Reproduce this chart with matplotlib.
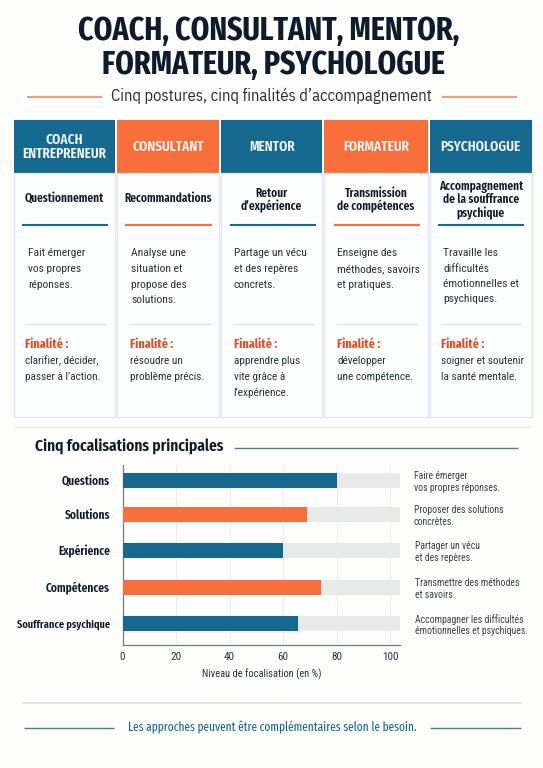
import matplotlib
matplotlib.use("Agg")
import matplotlib.pyplot as plt
from matplotlib import font_manager as fm
from matplotlib.font_manager import FontProperties
from matplotlib.patches import Rectangle
from matplotlib.textpath import TextPath

names = {f.name for f in fm.fontManager.ttflist}
def pick(*c):
    for n in c:
        if n in names:
            return n
    return 'Roboto'
BODY = pick('Roboto Condensed', 'IBM Plex Sans Condensed', 'Liberation Sans Narrow')
SUB = pick('IBM Plex Sans Condensed', 'Roboto Condensed', 'Liberation Sans Narrow')
BOLD = pick('Fira Sans Extra Condensed', 'Barlow Condensed', 'Liberation Sans Narrow')
HEAD = BOLD

BLUE = '#15698F'; ORANGE = '#F96F3B'; INK = '#0E1B2C'; BG = '#FDFDFB'; RED = '#E2502A'

title_lines = ["COACH, CONSULTANT, MENTOR,", "FORMATEUR, PSYCHOLOGUE"]
subtitle = "Cinq postures, cinq finalités d’accompagnement"
headers = ["COACH\nENTREPRENEUR", "CONSULTANT", "MENTOR", "FORMATEUR", "PSYCHOLOGUE"]
postures = ["Questionnement", "Recommandations", "Retour\nd’expérience",
            "Transmission\nde compétences", "Accompagnement\nde la souffrance\npsychique"]
descriptions = [["Fait émerger", "vos propres", "réponses."],
                ["Analyse une", "situation et", "propose des", "solutions."],
                ["Partage un vécu", "et des repères", "concrets."],
                ["Enseigne des", "méthodes, savoirs", "et pratiques."],
                ["Travaille les", "difficultés", "émotionnelles et", "psychiques."]]
purposes = [["clarifier, décider,", "passer à l’action."],
            ["résoudre un", "problème précis."],
            ["apprendre plus", "vite grâce à", "l’expérience."],
            ["développer", "une compétence."],
            ["soigner et soutenir", "la santé mentale."]]
focus_labels = ["Questions", "Solutions", "Expérience", "Compétences", "Souffrance psychique"]
focus_values = [80, 69, 60, 74, 65.5]
focus_notes = [["Faire émerger", "vos propres réponses."],
               ["Proposer des solutions", "concrètes."],
               ["Partager un vécu", "et des repères."],
               ["Transmettre des méthodes", "et savoirs."],
               ["Accompagner les difficultés", "émotionnelles et psychiques."]]
ticks = [0, 20, 40, 60, 80, 100]
xlabel = "Niveau de focalisation (en %)"
section_title = "Cinq focalisations principales"
footer = "Les approches peuvent être complémentaires selon le besoin."

W, H = 543, 768
fig = plt.figure(figsize=(W/100, H/100), dpi=100, facecolor=BG)
bgax = fig.add_axes([0, 0, 1, 1]); bgax.set_xlim(0, W); bgax.set_ylim(H, 0); bgax.axis('off')

def fit(s, px, fam, weight='normal'):
    p = TextPath((0, 0), s, size=10, prop=FontProperties(family=fam, weight=weight))
    return 10 * (px * 0.72) / p.get_extents().width

def T(x, y, s, size, color=INK, weight='normal', ha='left', va='center', fam=None, **kw):
    return bgax.text(x, y, s, fontsize=size, color=color, fontweight=weight, ha=ha, va=va,
                     family=fam or BODY, **kw)
def L(x0, x1, y, color, lw=1.0):
    bgax.plot([x0, x1], [y, y], color=color, lw=lw, solid_capstyle='butt')

# Title block
ts = fit(title_lines[0], 381, HEAD, 'bold')
T(268.5, 40, title_lines[0], ts, weight='bold', ha='center', va='baseline', fam=HEAD)
T(273, 74, title_lines[1], ts, weight='bold', ha='center', va='baseline', fam=HEAD)
T(271, 95.5, subtitle, fit(subtitle, 320, SUB), color='#26303B', ha='center', fam=SUB)
L(27, 102, 96.7, '#F0805A', 1.1); L(441.5, 517, 96.7, '#F0805A', 1.1)

# Cards
col_x = [(13.8, 115.3), (116.7, 219), (221, 322.4), (324.4, 427.6), (429.7, 531.8)]
head_col = [BLUE, ORANGE, BLUE, ORANGE, BLUE]
desc_x = [28, 131, 234, 337, 443]
purp_x = [25, 130, 233.5, 337, 441]
sep_x = [(24.5, 106), (129, 211), (233, 314), (336, 418), (441, 521)]
rule_x = [(22, 108), (125, 212), (229.5, 315.5), (333.5, 419.5), (438, 524)]
hs = fit("ENTREPRENEUR", 83.4, HEAD, 'semibold')
ps = fit("Recommandations", 86.6, BOLD, 'semibold')
ds = fit("méthodes, savoirs", 81.4, BODY)
us = fit("soigner et soutenir", 82.4, BODY)
fs = fit("Finalité :", 42, BOLD, 'bold')
card_top, card_bot = 120, 416.7
head_bot = 172.7
for i, (x0, x1) in enumerate(col_x):
    c = head_col[i]
    bgax.add_patch(Rectangle((x0, card_top), x1-x0, head_bot-card_top, fc=c, ec='none'))
    bgax.add_patch(Rectangle((x0, head_bot), x1-x0, card_bot-head_bot, fc='#FDFEFE', ec='#DCE6EB', lw=0.9))
    xc = (x0+x1)/2
    T(xc, 147, headers[i], hs, color='#F3F7F9', weight='semibold', ha='center', linespacing=1.05, fam=HEAD)
    T(xc, 198.5 if i < 2 else 200, postures[i], ps, weight='semibold', ha='center', linespacing=1.05, fam=BOLD)
    L(*rule_x[i], 225, c, 1.5)
    for j, s in enumerate(descriptions[i]):
        T(desc_x[i], 253.3 + j*(15.7 if i != 4 else 15.2), s, ds, color='#2A333D')
    L(*sep_x[i], 324, '#DDE2E4', 0.9)
    T(purp_x[i], 344.3, "Finalité :", fs, color=RED, weight='bold', fam=BOLD)
    for j, s in enumerate(purposes[i]):
        T(purp_x[i], 360.7 + j*16.2, s, us, color='#2A333D')
L(15, 530, 426.7, '#E6E9EA', 1.0)

# Section heading
T(35, 446, section_title, fit(section_title, 189, BOLD, 'semibold'), weight='semibold', fam=BOLD)
L(233.5, 517.5, 448, '#4F7F98', 1.0)

# Bars through real axes
ax_top, ax_bot = 465, 645
ax = fig.add_axes([122.6/W, 1-ax_bot/H, (400-122.6)/W, (ax_bot-ax_top)/H], facecolor='none')
ypos = [480.3, 514.3, 550.3, 587.3, 623.7]
ax.set_xlim(0, 103.7); ax.set_ylim(ax_bot, ax_top)
ax.barh(ypos, [103.7]*5, height=14.7, color='#E8EAE9', zorder=2)
ax.barh(ypos, focus_values, height=14.7, color=[BLUE, ORANGE, BLUE, ORANGE, BLUE], zorder=3)
ax.xaxis.grid(True, color='#ECEEEE', lw=0.7, zorder=1)
ax.set_axisbelow(True)
for s in ('top', 'right'):
    ax.spines[s].set_visible(False)
for s in ('left', 'bottom'):
    ax.spines[s].set_color('#777C80'); ax.spines[s].set_linewidth(0.9)
ax.set_xticks(ticks)
ax.set_xticklabels([str(t) for t in ticks], fontsize=8.0, color='#2A333D', family=BODY)
ax.tick_params(axis='x', length=0, pad=5)
ax.set_yticks(ypos)
ylab = fit(focus_labels[4], 92.5, BOLD, 'semibold')
ax.set_yticklabels(focus_labels, fontsize=ylab, fontweight='semibold', color=INK, family=BOLD)
for lab in ax.get_yticklabels()[:4]:
    lab.set_fontsize(ylab * 1.1)
ax.tick_params(axis='y', length=0, pad=9)
ax.set_xlabel(xlabel, fontsize=fit(xlabel, 118, BODY), color='#2A333D', family=BODY, labelpad=5)

note_x = [414, 414, 415, 415, 415]
ns = fit(focus_notes[4][1], 111, BODY)
for i, lines in enumerate(focus_notes):
    T(note_x[i], ypos[i]-4, lines[0], ns, color='#3A434C')
    T(note_x[i], ypos[i]+7.6, lines[1], ns, color='#3A434C')

# Footer
L(23, 521, 702.7, '#DDE1E3', 1.2)
T(272.5, 727, footer, fit(footer, 289, BOLD), color=BLUE, ha='center', fam=BOLD)
L(23.5, 114, 728, '#4F7F98', 1.0); L(430, 520.5, 728, '#4F7F98', 1.0)

fig.savefig('out.png', dpi=100, facecolor=BG)
